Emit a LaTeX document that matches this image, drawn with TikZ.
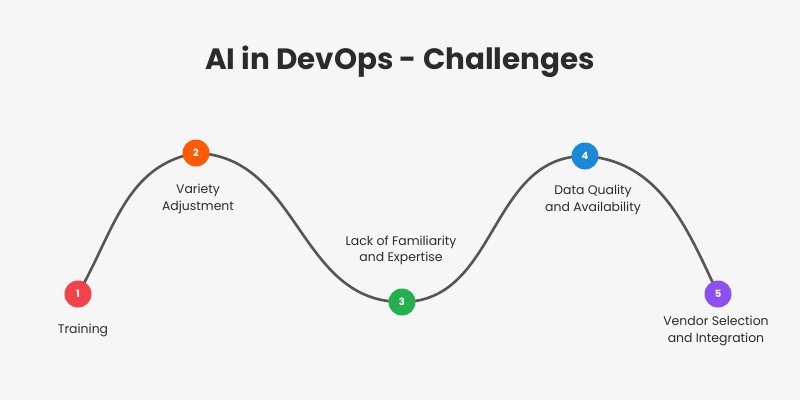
\documentclass[tikz,border=0pt]{standalone}
\usepackage{fontspec}
\setmainfont{Poppins}
\usepackage{tikz}
\usetikzlibrary{positioning}

\definecolor{bgcol}{HTML}{F6F6F6}
\definecolor{txtcol}{HTML}{2B2B2B}
\definecolor{wavecol}{HTML}{555555}
\definecolor{redc}{HTML}{F2434B}
\definecolor{orangec}{HTML}{FF5A05}
\definecolor{greenc}{HTML}{25B04E}
\definecolor{bluec}{HTML}{1B88D8}
\definecolor{purplec}{HTML}{8D4FEF}

\begin{document}
\begin{tikzpicture}[
      x=1bp, y=1bp,
      dot/.style={circle, minimum size=27bp, inner sep=0pt, text=white,
                  font=\fontsize{10}{12}\selectfont\bfseries},
      lbl/.style={align=center, text=txtcol, font=\fontsize{12.5}{16.5}\selectfont},
      wave/.style={draw=wavecol, line width=2.6bp},
      node distance=6bp,
    ]
    \useasboundingbox[fill=bgcol] (0,0) rectangle (800,400);

    % title
    \node (title) [text=txtcol, font=\fontsize{29.5}{34}\selectfont\bfseries] at (400,338) {AI in DevOps - Challenges};

    % milestones
    \coordinate (p1) at (78,106);
    \coordinate (p2) at (196,247);
    \coordinate (p3) at (402,98);
    \coordinate (p4) at (585,244);
    \coordinate (p5) at (718,106);

    % wave through the milestones
    \draw [wave] (p1) to[out=60,in=190] (p2)
                      to[out=-2,in=180,looseness=1.05] (p3)
                      to[out=0,in=180,looseness=1.05] (p4)
                      to[out=-4,in=115] (p5);

    \node (n1) [dot, fill=redc] at (p1) {1};
    \node (n2) [dot, fill=orangec] at (p2) {2};
    \node (n3) [dot, fill=greenc] at (p3) {3};
    \node (n4) [dot, fill=bluec] at (p4) {4};
    \node (n5) [dot, fill=purplec] at (p5) {5};

    % labels
    \node (l1) [lbl, below=13bp of n1, xshift=5bp] {Training};
    \node (l2) [lbl, below=14bp of n2, xshift=2bp] {Variety\\Adjustment};
    \node (l3) [lbl, above=20bp of n3, xshift=-1bp] {Lack of Familiarity\\and Expertise};
    \node (l4) [lbl, below=12bp of n4, xshift=8bp] {Data Quality\\and Availability};
    \node (l5) [lbl, below=5bp of n5, xshift=-2bp] {Vendor Selection\\and Integration};
  \end{tikzpicture}
\end{document}
